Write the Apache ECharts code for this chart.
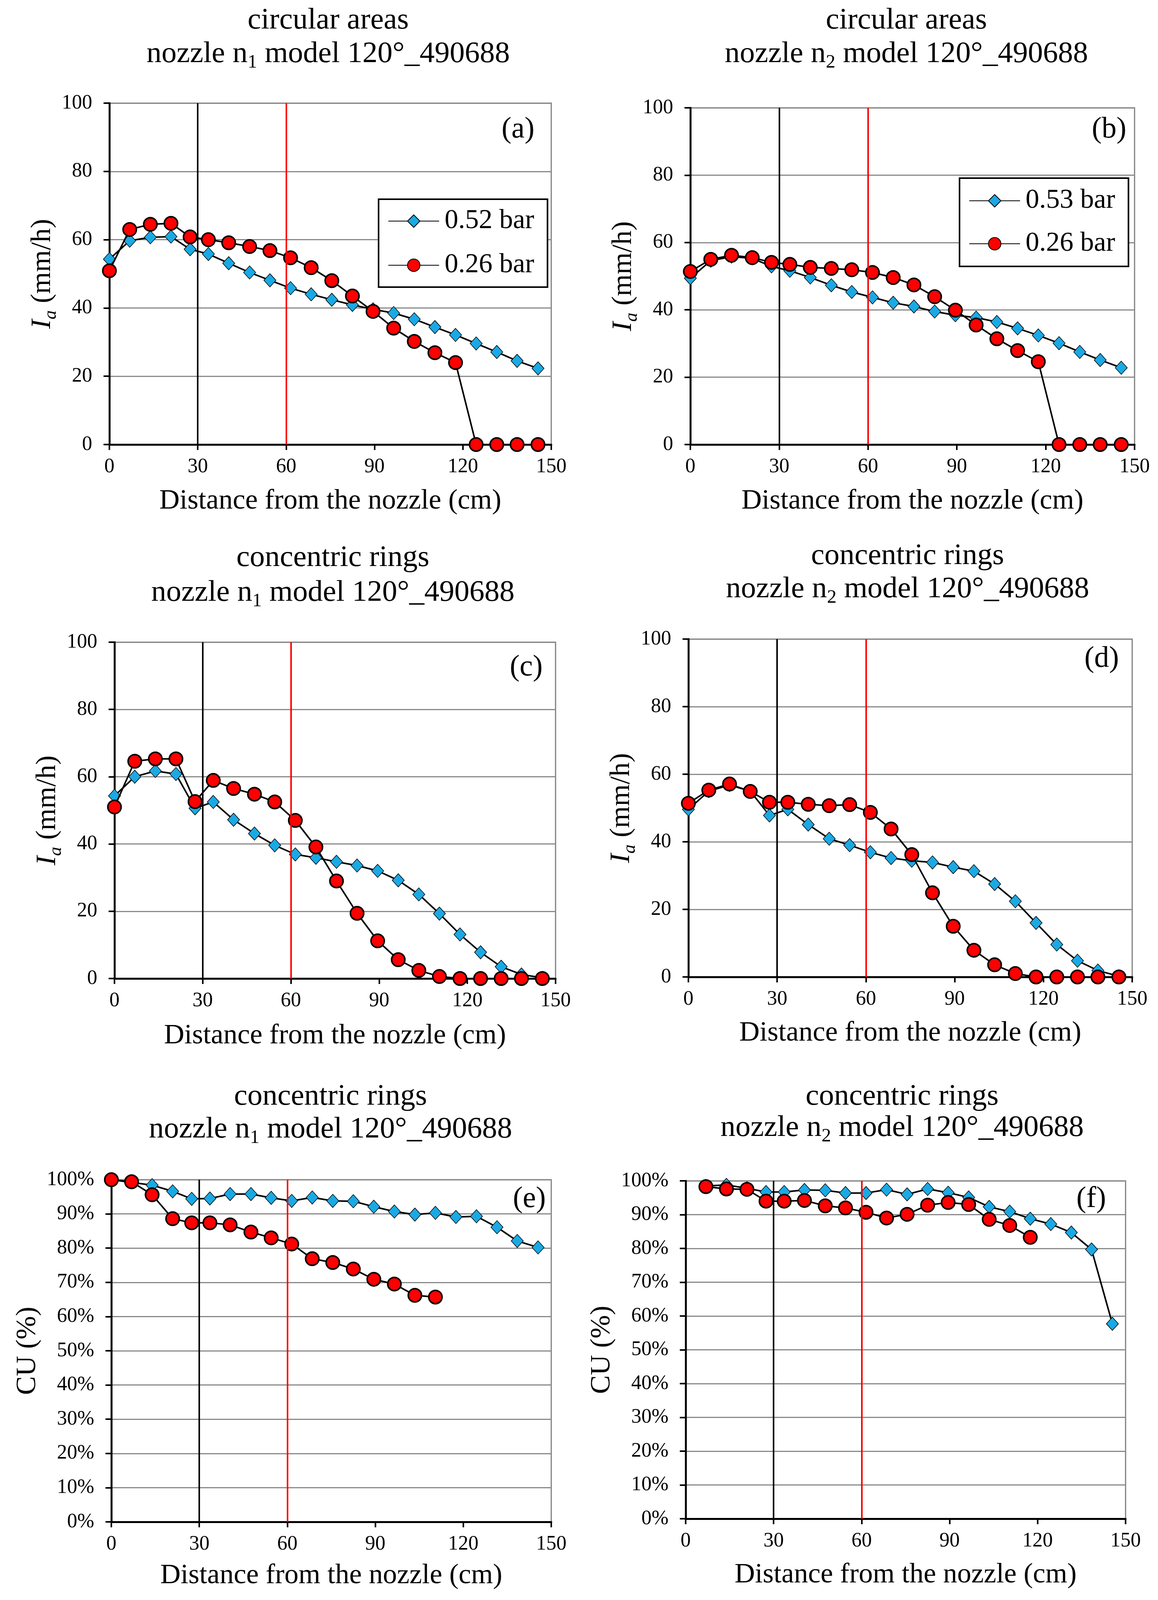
<!DOCTYPE html>
<html><head><meta charset="utf-8">
<script src="https://cdn.jsdelivr.net/npm/echarts@6/dist/echarts.min.js"></script>
<style>html,body{margin:0;padding:0;background:#fff;overflow:hidden}#c{width:100vw;height:100vh}</style>
</head><body><div id="c"></div>
<script>
// ---------- data ----------
const distance = [0, 6.9, 13.9, 20.9, 27.4, 33.6, 40.5, 47.6, 54.5, 61.5, 68.5, 75.5, 82.5, 89.5, 96.5, 103.5, 110.5, 117.5, 124.5, 131.5, 138.4, 145.5];
const xTicks = [0, 30, 60, 90, 120, 150];
const verticalMarks = [30, 60];

const aBlue = [54.3, 59.7, 60.7, 60.9, 57.2, 55.8, 53.1, 50.4, 48.1, 45.8, 44.0, 42.4, 40.9, 39.6, 38.5, 36.7, 34.4, 32.1, 29.6, 27.1, 24.5, 22.3];
const aRed  = [50.9, 63.0, 64.5, 64.8, 60.8, 60.0, 59.1, 58.0, 56.8, 54.7, 51.8, 48.0, 43.5, 39.0, 34.1, 30.2, 26.9, 24.0, 0, 0, 0, 0];
const bBlue = [49.4, 54.6, 55.8, 55.3, 52.9, 51.6, 49.6, 47.3, 45.3, 43.7, 42.1, 41.0, 39.5, 38.4, 37.7, 36.4, 34.5, 32.4, 30.1, 27.5, 25.1, 22.8];
const bRed  = [51.4, 55.0, 56.2, 55.5, 54.1, 53.5, 52.6, 52.3, 51.9, 51.1, 49.6, 47.4, 43.9, 39.9, 35.5, 31.4, 27.9, 24.6, 0, 0, 0, 0];
const cBlue = [54.3, 60.0, 61.7, 60.8, 50.6, 52.5, 47.2, 43.1, 39.6, 36.9, 35.9, 34.7, 33.6, 32.0, 29.2, 25.0, 19.3, 13.1, 7.8, 3.5, 1.2, 0.2];
const cRed  = [51.0, 64.6, 65.3, 65.3, 52.6, 58.9, 56.5, 54.8, 52.5, 47.0, 39.1, 29.0, 19.4, 11.2, 5.6, 2.4, 0.6, 0, 0, 0, 0, 0];
const dBlue = [49.6, 55.0, 56.8, 55.0, 47.8, 49.6, 45.1, 40.9, 39.0, 36.9, 35.2, 34.4, 33.9, 32.5, 31.3, 27.5, 22.4, 16.0, 9.6, 4.8, 1.9, 0.2];
const dRed  = [51.4, 55.3, 57.1, 54.9, 51.7, 51.7, 51.1, 50.7, 51.0, 48.7, 43.8, 36.2, 24.9, 15.0, 7.9, 3.6, 1.0, 0, 0, 0, 0, 0];
const eBlue = [100, 99.2, 98.4, 96.6, 94.4, 94.5, 95.8, 95.8, 94.7, 93.8, 94.8, 93.8, 93.7, 92.1, 90.7, 89.8, 90.3, 89.1, 89.3, 86.1, 82.1, 80.2];
const eRed  = [100, 99.4, 95.6, 88.6, 87.4, 87.4, 86.8, 84.7, 83.0, 81.2, 76.9, 75.8, 73.9, 70.9, 69.5, 66.2, 65.7, null, null, null, null, null];
const fBlue = [null, 98.5, 98.8, 97.8, 96.7, 96.7, 97.3, 97.2, 96.4, 96.4, 97.4, 96.0, 97.6, 96.5, 95.1, 92.3, 90.9, 88.8, 87.2, 84.7, 79.7, 57.7];
const fRed  = [null, 98.3, 97.6, 97.5, 94.0, 94.0, 94.2, 92.6, 92.0, 90.7, 89.0, 90.1, 92.8, 93.6, 93.0, 88.6, 86.8, 83.3, null, null, null, null];

const titleLine1 = ['circular areas', 'circular areas', 'concentric rings', 'concentric rings', 'concentric rings', 'concentric rings'];
const nozzleIndex = ['1', '2', '1', '2', '1', '2'];
const panelLetters = ['(a)', '(b)', '(c)', '(d)', '(e)', '(f)'];
const blueNames = ['0.52 bar', '0.53 bar', '0.52 bar', '0.53 bar', '0.52 bar', '0.53 bar'];
const redName = '0.26 bar';
const blueSets = [aBlue, bBlue, cBlue, dBlue, eBlue, fBlue];
const redSets = [aRed, bRed, cRed, dRed, eRed, fRed];

// ---------- layout (reference pixels, 2964 x 4430; scaled to the viewport) ----------
const FONT = '"Liberation Serif", "Times New Roman", serif';
const VW = window.innerWidth || 2964, VH = window.innerHeight || 4430;
const sx = VW / 2964, sy = VH / 4430;
const fs = Math.min(1, (sx + sy) / 2 + 0.02);
const X = v => Math.round(v * sx), Y = v => Math.round(v * sy), F = v => Math.round(v * fs);

const layout = [
  {l: 280, t: 285, w: 1131, h: 945, pct: false, yGap: 109, xGap: 112, tx: 840, ty1: 57, ty2: 150, lx: 1368, ly: 359},
  {l: 1767, t: 298, w: 1137, h: 932, pct: false, yGap: 119, xGap: 112, tx: 2320, ty1: 57, ty2: 150, lx: 2883, ly: 359},
  {l: 293, t: 1778, w: 1129, h: 931, pct: false, yGap: 117, xGap: 115, tx: 852, ty1: 1545, ty2: 1642, lx: 1389, ly: 1848},
  {l: 1762, t: 1769, w: 1136, h: 935, pct: false, yGap: 116, xGap: 111, tx: 2323, ty1: 1540, ty2: 1632, lx: 2864, ly: 1825},
  {l: 285, t: 3266, w: 1126, h: 947, pct: true, yGap: 159, xGap: 105, tx: 846, ty1: 3037, ty2: 3128, lx: 1397, ly: 3320},
  {l: 1755, t: 3269, w: 1126, h: 936, pct: true, yGap: 138, xGap: 111, tx: 2309, ty1: 3037, ty2: 3124, lx: 2831, ly: 3320}
];
const legendPos = [{l: 969, t: 552, step: 118}, {l: 2456, t: 493, step: 115}];

function pairs(vals) {
  const out = [];
  vals.forEach((v, i) => { if (v !== null) out.push([distance[i], v]); });
  return out;
}

const grids = [], xAxes = [], yAxes = [], series = [], graphics = [];
layout.forEach((p, i) => {
  grids.push({left: X(p.l), top: Y(p.t), width: X(p.w), height: Y(p.h), show: true, borderColor: '#808080', borderWidth: 3, containLabel: false});
  xAxes.push({
    type: 'value', gridIndex: i, min: xTicks[0], max: xTicks[xTicks.length - 1], interval: xTicks[1] - xTicks[0],
    axisLine: {show: true, onZero: false, lineStyle: {color: '#000', width: 5}},
    axisTick: {show: true, length: Y(15), lineStyle: {color: '#000', width: 4}},
    axisLabel: {fontSize: F(53), color: '#000', fontFamily: FONT, margin: Y(34)},
    splitLine: {show: false},
    name: 'Distance from the nozzle (cm)', nameLocation: 'middle', nameGap: Y(p.xGap),
    nameTextStyle: {fontSize: F(73), fontFamily: FONT, color: '#000', lineHeight: Y(90)}
  });
  yAxes.push({
    type: 'value', gridIndex: i, min: 0, max: 100, interval: p.pct ? 10 : 20,
    axisLine: {show: true, onZero: false, lineStyle: {color: '#000', width: 5}},
    axisTick: {show: true, length: X(15), lineStyle: {color: '#000', width: 4}},
    axisLabel: {fontSize: F(53), color: '#000', fontFamily: FONT, margin: X(44), formatter: p.pct ? '{value}%' : '{value}'},
    splitLine: {show: true, lineStyle: {color: '#8a8a8a', width: 3}},
    name: p.pct ? 'CU (%)' : '{i|I}{s|a} (mm/h)', nameLocation: 'middle', nameGap: X(p.yGap),
    nameTextStyle: {
      fontSize: F(73), fontFamily: FONT, color: '#000', lineHeight: 90,
      rich: {
        i: {fontSize: F(73), fontFamily: FONT, fontStyle: 'italic', color: '#000', lineHeight: 90},
        s: {fontSize: F(48), fontFamily: FONT, fontStyle: 'italic', color: '#000', lineHeight: 48, verticalAlign: 'bottom'}
      }
    }
  });
  // reference vertical lines at 30 cm and 60 cm
  series.push({
    type: 'line', xAxisIndex: i, yAxisIndex: i, data: [], z: 1, silent: true,
    markLine: {
      silent: true, symbol: ['none', 'none'], label: {show: false}, animation: false,
      data: verticalMarks.map((v, k) => ({xAxis: v, lineStyle: {color: k === 0 ? '#000' : '#ff0000', width: 4, type: 'solid'}}))
    }
  });
  series.push({
    name: blueNames[i], type: 'line', xAxisIndex: i, yAxisIndex: i, data: pairs(blueSets[i]), z: 3,
    symbol: 'diamond', symbolSize: [31, 34], showAllSymbol: true,
    itemStyle: {color: '#1ba9e4', borderColor: '#000', borderWidth: 1.5},
    lineStyle: {color: '#000', width: 4}
  });
  series.push({
    name: redName, type: 'line', xAxisIndex: i, yAxisIndex: i, data: pairs(redSets[i]), z: 4,
    symbol: 'circle', symbolSize: 34, showAllSymbol: true,
    itemStyle: {color: '#ff0000', borderColor: '#000', borderWidth: 4},
    lineStyle: {color: '#000', width: 4}
  });
  graphics.push({type: 'text', x: X(p.tx), y: Y(p.ty1), style: {text: titleLine1[i], fontSize: F(78), fontFamily: FONT, fill: '#000', align: 'center', verticalAlign: 'middle'}});
  graphics.push({type: 'text', x: X(p.tx), y: Y(p.ty2), style: {
    text: 'nozzle n{s|' + nozzleIndex[i] + '} model 120°_490688', fontSize: F(78), fontFamily: FONT, fill: '#000',
    align: 'center', verticalAlign: 'middle', lineHeight: 92,
    rich: {s: {fontSize: F(50), fontFamily: FONT, fill: '#000', lineHeight: 48, verticalAlign: 'bottom'}}
  }});
  graphics.push({type: 'text', x: X(p.lx), y: Y(p.ly), z: 10, style: {text: panelLetters[i], fontSize: F(77), fontFamily: FONT, fill: '#000', align: 'right', verticalAlign: 'middle'}});
});

function legendFor(k, names) {
  const lp = legendPos[k];
  const itemH = 66;
  const padV = Math.max(4, Math.round((Y(235) - Y(lp.step) - itemH) / 2));
  return {
    left: X(lp.l), top: Y(lp.t), data: names,
    orient: 'vertical', itemWidth: X(130), itemHeight: 40, itemGap: Y(lp.step) - itemH,
    padding: [padV, X(34), padV, X(24)],
    borderColor: '#000', borderWidth: 4, backgroundColor: '#fff', selectedMode: false,
    textStyle: {fontSize: F(71), fontFamily: FONT, color: '#000', lineHeight: itemH, padding: [0, 0, 0, 9]}
  };
}

const chart = echarts.init(document.getElementById('c'), null, {renderer: 'canvas'});
chart.setOption({
  backgroundColor: '#fff',
  animation: false,
  grid: grids, xAxis: xAxes, yAxis: yAxes, series: series,
  legend: [legendFor(0, [blueNames[0], redName]), legendFor(1, [blueNames[1], redName])],
  graphic: graphics
});
</script></body></html>
